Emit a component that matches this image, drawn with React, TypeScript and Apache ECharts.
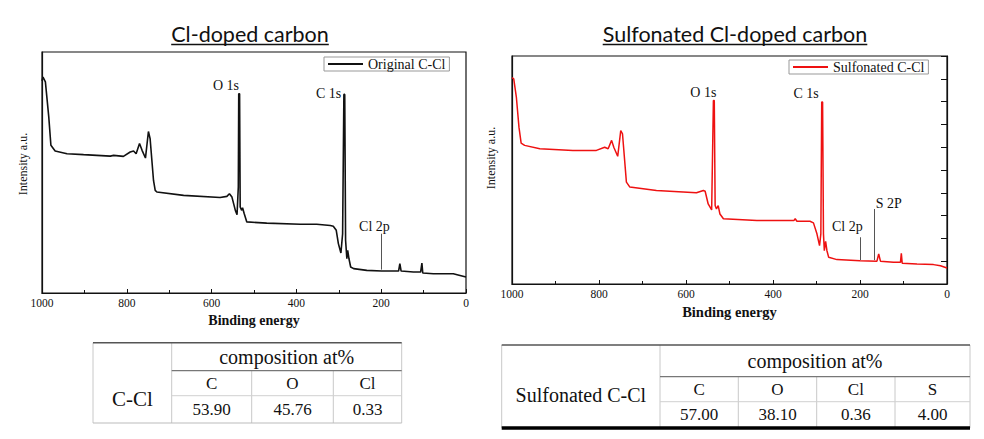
import React, { useEffect, useRef } from "react";
import * as echarts from "echarts";

// ---------- DATA ----------
const leftTitle = "Cl-doped carbon";
const rightTitle = "Sulfonated Cl-doped carbon";
const leftSeriesName = "Original C-Cl";
const rightSeriesName = "Sulfonated C-Cl";
const xTickValues = [1000, 800, 600, 400, 200, 0];

const leftEnergy = [1000, 997.6, 992, 984, 979, 969, 941, 902, 839, 831, 808, 792, 784, 778, 770, 764, 756, 749, 745, 737, 733, 729, 666, 580, 564, 558, 552, 544, 540, 537, 536, 534, 532.6, 529, 527, 523, 517, 470, 391, 352, 320, 313, 306, 301, 295, 291, 288, 286, 284, 281, 279, 276, 272, 265, 234, 199, 159, 156, 153, 124, 107, 104, 102, 77, 30, 14, 0];
const leftIntensity = [88, 89.6, 87.6, 73, 61.3, 58.9, 57.8, 57.4, 56.8, 57.1, 56.7, 58.5, 58.9, 57.8, 62, 59.2, 56, 67, 64, 46.7, 42.6, 41.9, 40.5, 39.6, 40.1, 41.2, 39.8, 34.3, 32.5, 44, 82.7, 82.7, 35.7, 34.3, 35.4, 32.9, 29.5, 29, 28.5, 28.5, 28, 27.7, 26, 20.5, 16.6, 24.6, 82.4, 82.4, 21.9, 14.2, 17.7, 14.2, 10.8, 10.1, 9.4, 9.1, 9.1, 12.2, 9.1, 8.7, 8.7, 12.4, 8.3, 8, 8, 7.3, 6.6];

const rightEnergy = [1000, 996, 990, 984, 979, 971, 936, 860, 806, 787, 779, 771, 766, 757, 750, 746, 737, 729, 668, 576, 560, 556, 549, 541, 537, 535, 533, 530, 526, 522, 514, 437, 352, 349, 345, 315, 307, 299, 293, 290, 288, 286, 284, 282, 279, 276, 272, 253, 200, 161, 157, 153, 123, 107, 105, 103, 69, 31, 15, 0];
const rightIntensity = [90.5, 90, 82, 68.8, 61.8, 60.8, 59.3, 58.6, 58.6, 60, 59.3, 63, 60, 56, 67.3, 65.9, 44.7, 42.5, 41, 40, 41, 40.7, 35.1, 32.5, 80.5, 80.5, 34.4, 32.9, 34.4, 30.7, 28.6, 27.8, 27.8, 28.6, 27.5, 27.5, 26.8, 22, 16.8, 22, 79.8, 79.8, 22, 14.6, 18.7, 14.6, 11.7, 10.7, 10.2, 10, 13.2, 10, 9.5, 9.5, 13.5, 9.1, 8.8, 8.5, 8, 7];

// peak labels: [name, energy, intensity]
const leftPeakLabels: [string, number, number][] = [
  ["O 1s", 566, 86.2],
  ["C 1s", 324, 82.7],
  ["Cl 2p", 216, 27.4],
];
const leftPeakLines: [number, number, number][] = [[200, 24.6, 9.7]];
const rightPeakLabels: [string, number, number][] = [
  ["O 1s", 560, 84.2],
  ["C 1s", 324, 83.5],
  ["Cl 2p", 229, 25.2],
  ["S 2P", 134, 35.4],
];
const rightPeakLines: [number, number, number][] = [
  [200, 20.5, 10.5],
  [168, 32.9, 10.5],
];

const tableHeaderTitle = "composition at%";
const leftTableRowName = "C-Cl";
const leftTableElements = ["C", "O", "Cl"];
const leftTableValues = ["53.90", "45.76", "0.33"];
const rightTableRowName = "Sulfonated C-Cl";
const rightTableElements = ["C", "O", "Cl", "S"];
const rightTableValues = ["57.00", "38.10", "0.36", "4.00"];

// ---------- helpers ----------
const SERIF = "Liberation Serif";
const SANS = "Lato";

function measure(text: string, font: string): number {
  const c = document.createElement("canvas").getContext("2d");
  if (!c) return text.length * 10;
  c.font = font;
  return c.measureText(text).width;
}

function zip(a: number[], b: number[]) {
  return a.map((v, i) => [v, b[i]]);
}

function hline(x1: number, x2: number, y: number, stroke: string, w: number) {
  return { type: "line", shape: { x1, y1: y, x2, y2: y }, style: { stroke, lineWidth: w } };
}
function vline(x: number, y1: number, y2: number, stroke: string, w: number) {
  return { type: "line", shape: { x1: x, y1, x2: x, y2 }, style: { stroke, lineWidth: w } };
}
function txt(text: string, x: number, y: number, size: number, font = SERIF, extra: any = {}) {
  return {
    type: "text",
    x,
    y,
    style: {
      text,
      fill: "#111",
      fontFamily: font,
      fontSize: size,
      fontWeight: extra.fontWeight || "normal",
      align: "center",
      verticalAlign: "middle",
    },
    ...(extra.rotation ? { rotation: extra.rotation } : {}),
  };
}

function buildTable(
  layout: { left: number; firstEnd: number; colEdges: number[]; top: number; headSep: number; rowSep: number; bottom: number; bottomColor: string; bottomWidth: number; titleY: number; nameY: number; headY: number; valY: number },
  rowName: string,
  elements: string[],
  values: string[],
  nameSize: number
) {
  const L = layout;
  const right = L.colEdges[L.colEdges.length - 1];
  const els: any[] = [];
  els.push(vline(L.left, L.top, L.bottom, "#c8c8c8", 1));
  els.push(vline(L.firstEnd, L.top, L.bottom, "#c8c8c8", 1));
  els.push(vline(right, L.top, L.bottom, "#c8c8c8", 1));
  for (let i = 1; i < L.colEdges.length - 1; i++) {
    els.push(vline(L.colEdges[i], L.headSep, L.bottom, "#c8c8c8", 1));
  }
  els.push(hline(L.left, right, L.top, "#555", 1.6));
  els.push(hline(L.firstEnd, right, L.headSep, "#777", 1.2));
  els.push(hline(L.firstEnd, right, L.rowSep, "#d0d0d0", 1));
  els.push(hline(L.left, right, L.bottom, L.bottomColor, L.bottomWidth));
  els.push(txt(tableHeaderTitle, (L.firstEnd + right) / 2, L.titleY, 20));
  els.push(txt(rowName, (L.left + L.firstEnd) / 2, L.nameY, nameSize));
  elements.forEach((e, i) => {
    const cx = (L.colEdges[i] + L.colEdges[i + 1]) / 2;
    els.push(txt(e, cx, L.headY, 17));
    els.push(txt(values[i], cx, L.valY, 17));
  });
  return els;
}

function title(text: string, cx: number, y: number) {
  const size = 21.5;
  const w = measure(text, `${size}px Lato`);
  return [
    txt(text, cx, y, size, SANS),
    hline(cx - w / 2, cx + w / 2, y + 10.5, "#111", 1.3),
  ];
}

export default function App() {
  const ref = useRef<HTMLDivElement>(null);

  useEffect(() => {
    document.body.style.margin = "0";
    if (!ref.current) return;
    const chart = echarts.init(ref.current, undefined, { renderer: "svg" });

    const xAxisBase = (gridIndex: number, nameGap: number, nameSize: number) => ({
      type: "value",
      gridIndex,
      inverse: true,
      min: 0,
      max: 1000,
      interval: 200,
      axisLine: { show: true, onZero: false, lineStyle: { color: "#111", width: 1.2 } },
      axisTick: { show: true, inside: true, length: 4, lineStyle: { color: "#111" } },
      minorTick: { show: true, splitNumber: 2, length: 3, lineStyle: { color: "#111" } },
      splitLine: { show: false },
      axisLabel: {
        color: "#111",
        fontFamily: SERIF,
        fontSize: 11.5,
        margin: 4,
        formatter: (v: number) => (xTickValues.includes(v) ? String(v) : ""),
      },
      name: "Binding energy",
      nameLocation: "middle",
      nameGap,
      nameTextStyle: { color: "#111", fontFamily: SERIF, fontSize: nameSize, fontWeight: "bold" },
    });

    const yAxisPlain = (gridIndex: number) => ({
      type: "value",
      gridIndex,
      min: 0,
      max: 100,
      axisLine: { show: true, onZero: false, lineStyle: { color: "#111", width: 1.2 } },
      axisTick: { show: false },
      axisLabel: { show: false },
      splitLine: { show: false },
    });

    const peakMarks = (labels: [string, number, number][], lines: [number, number, number][], size: number) => ({
      markPoint: {
        symbol: "circle",
        symbolSize: 0,
        silent: true,
        label: {
          show: true,
          position: "inside",
          formatter: "{b}",
          color: "#111",
          fontFamily: SERIF,
          fontSize: size,
        },
        data: labels.map(([n, e, i]) => ({ name: n, coord: [e, i] })),
      },
      markLine: {
        symbol: "none",
        silent: true,
        label: { show: false },
        lineStyle: { color: "#555", width: 1, type: "solid" },
        data: lines.map(([e, a, b]) => [{ coord: [e, a] }, { coord: [e, b] }]),
      },
    });

    const legendBase = (name: string, left: number, top: number) => ({
      data: [name],
      left,
      top,
      orient: "horizontal",
      icon: "rect",
      itemWidth: 35,
      itemHeight: 2,
      itemGap: 0,
      padding: [0, 4, 0, 4],
      borderColor: "#999",
      borderWidth: 1,
      textStyle: { color: "#111", fontFamily: SERIF, fontSize: 14, lineHeight: 14 },
    });

    const graphics: any[] = [
      ...title(leftTitle, 250, 34),
      ...title(rightTitle, 735, 34),
      txt("Intensity a.u.", 22.7, 164, 12, SERIF, { rotation: Math.PI / 2 }),
      txt("Intensity a.u.", 490.7, 158, 12, SERIF, { rotation: Math.PI / 2 }),
      ...buildTable(
        { left: 93, firstEnd: 171.7, colEdges: [171.7, 251.7, 333.3, 401.7], top: 342.7, headSep: 370.7, rowSep: 395.7, bottom: 423, bottomColor: "#bbb", bottomWidth: 1, titleY: 357, nameY: 399, headY: 383, valY: 409.5 },
        leftTableRowName,
        leftTableElements,
        leftTableValues,
        21
      ),
      ...buildTable(
        { left: 501.7, firstEnd: 660, colEdges: [660, 738.3, 816.7, 895, 970], top: 345, headSep: 376.7, rowSep: 401.7, bottom: 428, bottomColor: "#000", bottomWidth: 3.5, titleY: 361, nameY: 395, headY: 389.5, valY: 414.5 },
        rightTableRowName,
        rightTableElements,
        rightTableValues,
        20
      ),
    ];

    chart.setOption({
      animation: false,
      backgroundColor: "#fff",
      textStyle: { fontFamily: SERIF },
      grid: [
        { left: 42, top: 52, width: 424, height: 241, show: true, borderColor: "#111", borderWidth: 1.2, backgroundColor: "transparent" },
        { left: 512, top: 56, width: 435, height: 228, show: true, borderColor: "#111", borderWidth: 1.2, backgroundColor: "transparent" },
      ],
      xAxis: [xAxisBase(0, 18, 14), xAxisBase(1, 19, 14.5)],
      yAxis: [
        yAxisPlain(0),
        yAxisPlain(1),
        {
          type: "value",
          gridIndex: 1,
          position: "right",
          min: 0,
          max: 100,
          interval: 10,
          axisLine: { show: true, onZero: false, lineStyle: { color: "#111", width: 1.2 } },
          axisTick: { show: true, inside: true, length: 6, lineStyle: { color: "#111" } },
          axisLabel: { show: false },
          splitLine: { show: false },
        },
      ],
      legend: [legendBase(leftSeriesName, 324, 57), legendBase(rightSeriesName, 789, 60)],
      series: [
        {
          name: leftSeriesName,
          type: "line",
          xAxisIndex: 0,
          yAxisIndex: 0,
          data: zip(leftEnergy, leftIntensity),
          showSymbol: false,
          symbol: "none",
          lineStyle: { color: "#111", width: 1.6 },
          itemStyle: { color: "#111" },
          ...peakMarks(leftPeakLabels, leftPeakLines, 14),
        },
        {
          name: rightSeriesName,
          type: "line",
          xAxisIndex: 1,
          yAxisIndex: 1,
          data: zip(rightEnergy, rightIntensity),
          showSymbol: false,
          symbol: "none",
          lineStyle: { color: "#ee1111", width: 1.5 },
          itemStyle: { color: "#ee1111" },
          ...peakMarks(rightPeakLabels, rightPeakLines, 14),
        },
      ],
      graphic: graphics,
    });

    return () => chart.dispose();
  }, []);

  return (
    <div
      ref={ref}
      style={{ position: "absolute", left: 0, top: 0, width: 984, height: 439, background: "#fff" }}
    />
  );
}
